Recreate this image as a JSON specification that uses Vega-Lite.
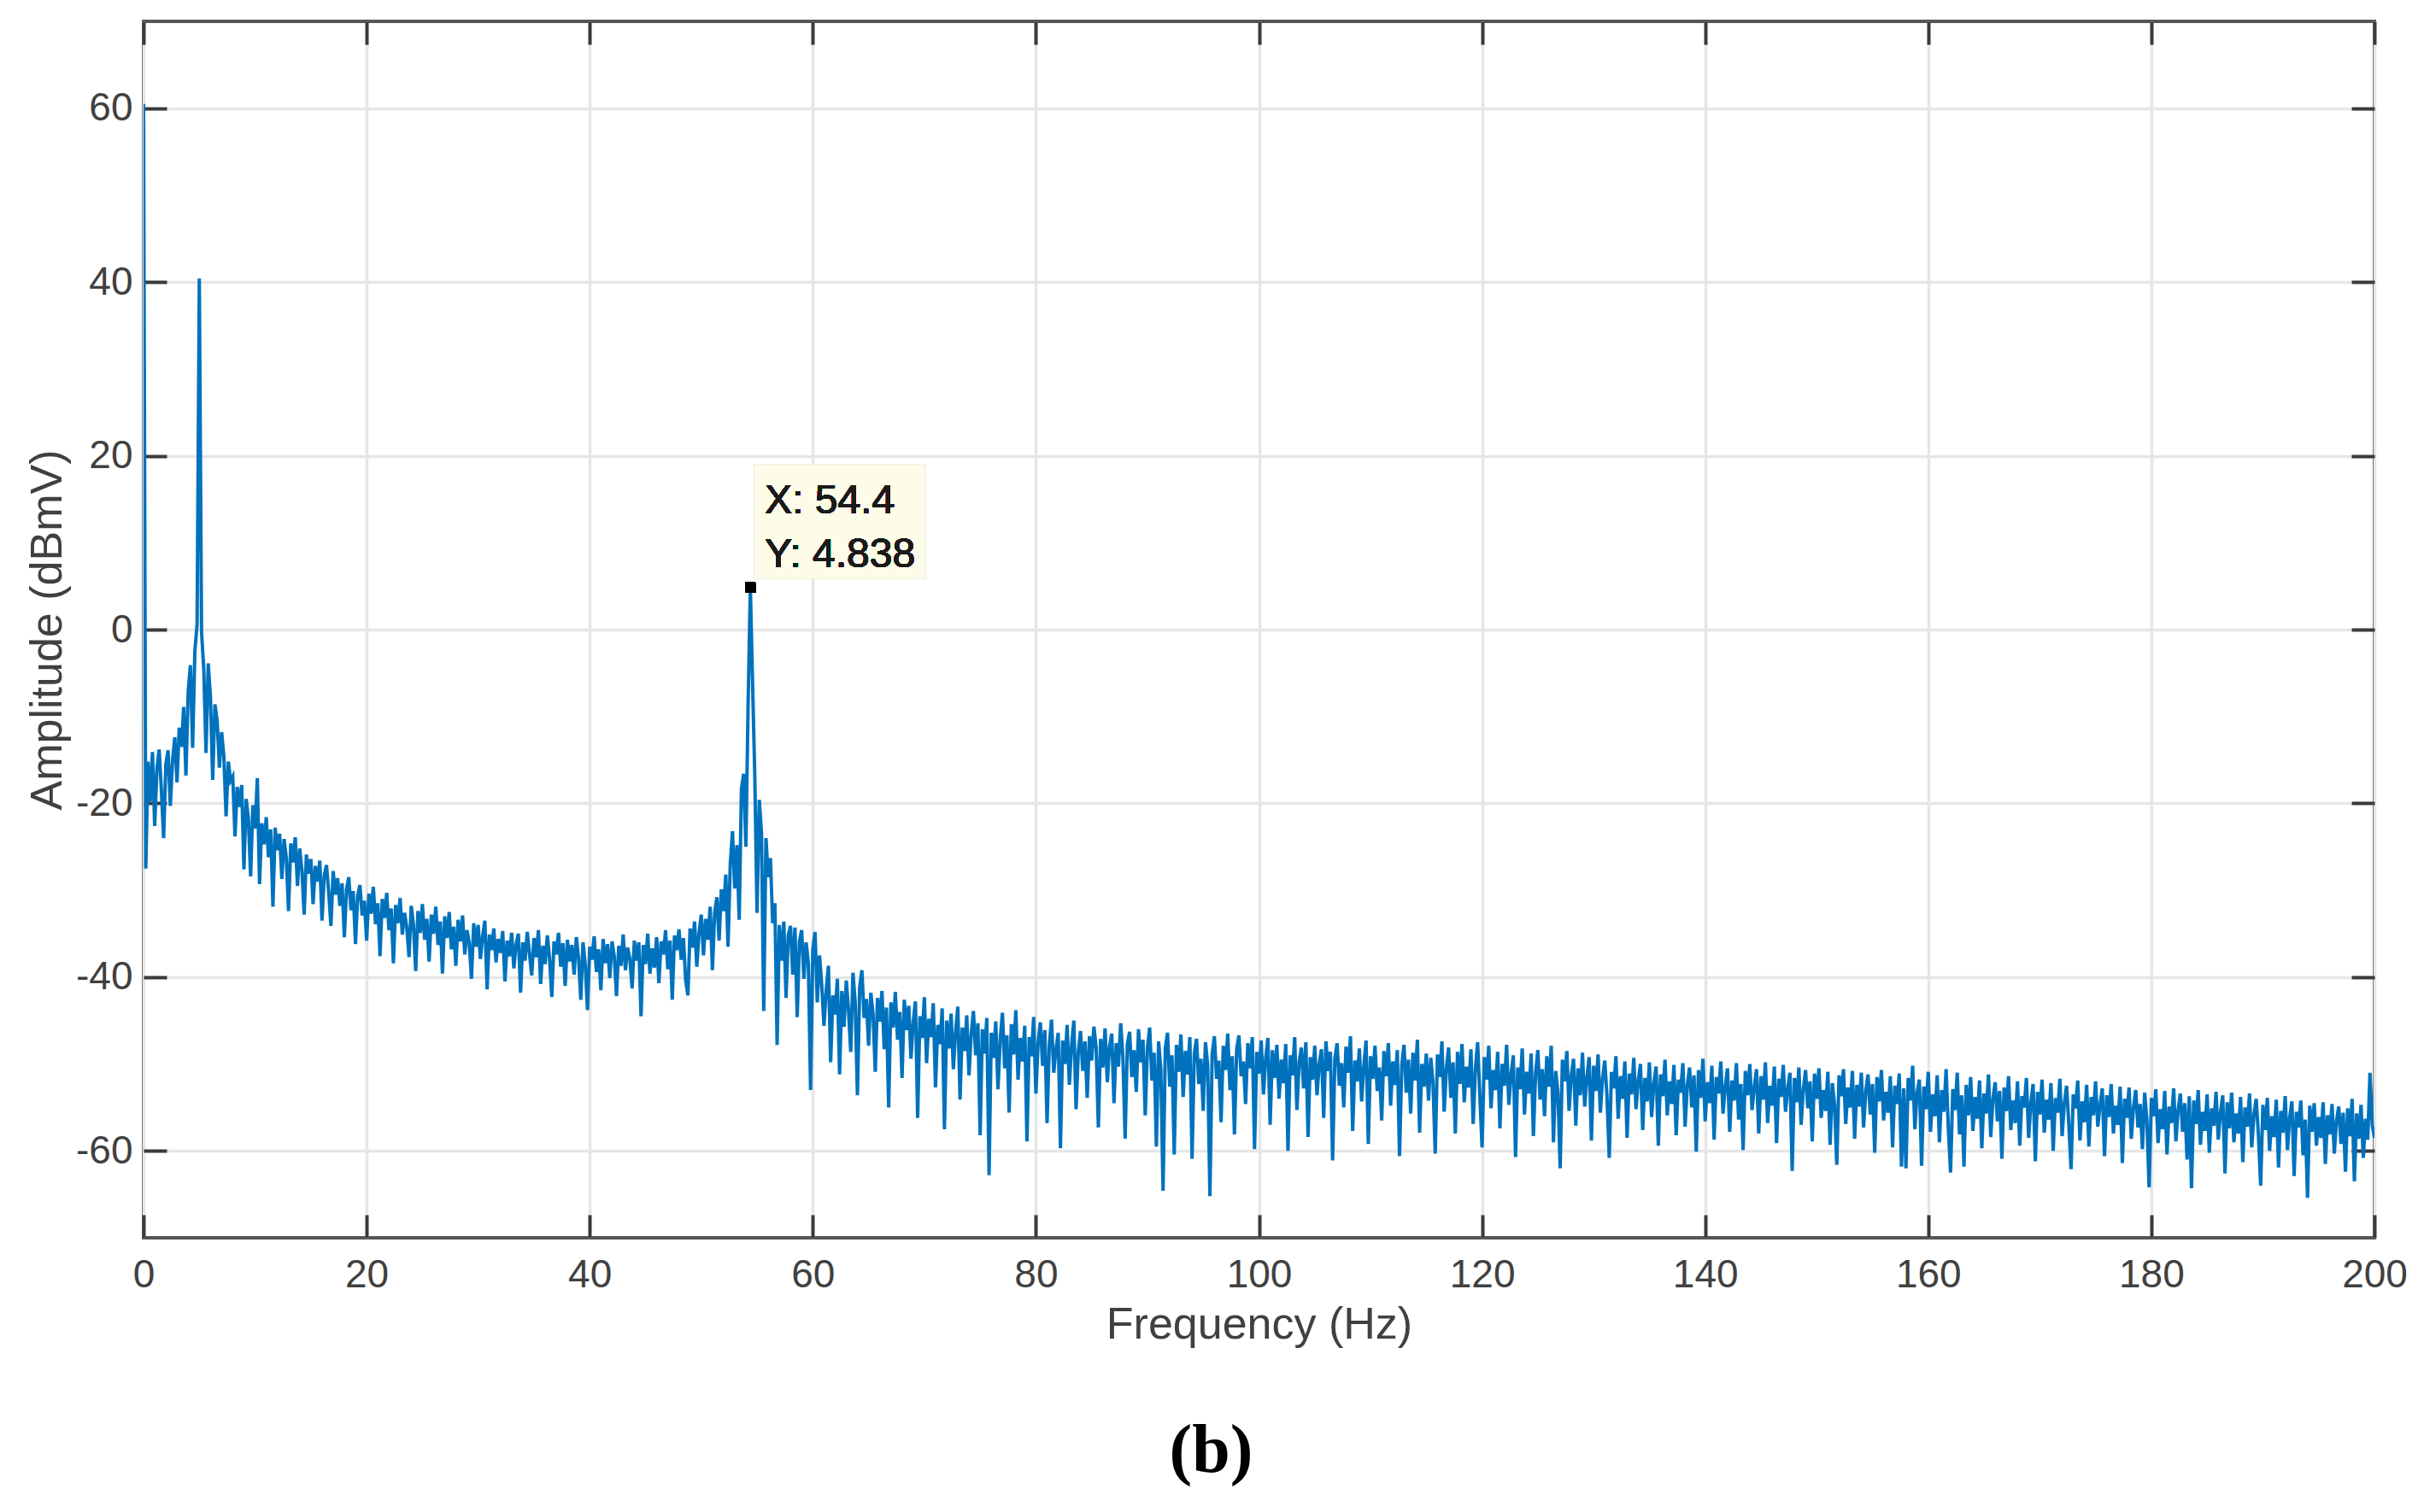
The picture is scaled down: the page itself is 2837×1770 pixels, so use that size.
{
"$schema": "https://vega.github.io/schema/vega-lite/v6.json",
"autosize": {"type": "none"},
"padding": {"left": 168, "top": 25, "right": 58, "bottom": 321},
"width": 2611,
"height": 1424,
"background": "white",
"config": {
  "view": {"stroke": "#555555", "strokeWidth": 4},
  "axis": {"labelFont": "Liberation Sans", "titleFont": "Liberation Sans", "labelColor": "#404040", "titleColor": "#404040", "titleFontWeight": "normal", "labelFlush": false, "labelOverlap": false, "labelBound": false}
},
"title": {"text": "(b)", "orient": "bottom", "font": "Liberation Serif", "fontSize": 80, "fontWeight": "bold", "color": "#000000", "offset": 84, "dx": -56, "anchor": "middle"},
"data": {"values": [
{"f":0,"a":60.5},{"f":0.2,"a":-27.5},{"f":0.4,"a":-15.2},{"f":0.6,"a":-19.8},{"f":0.8,"a":-14.1},{"f":1.0,"a":-22.6},{"f":1.2,"a":-16.0},{"f":1.4,"a":-13.8},{"f":1.6,"a":-18.5},{"f":1.8,"a":-24.0},
{"f":2.0,"a":-15.5},{"f":2.2,"a":-13.9},{"f":2.4,"a":-20.3},{"f":2.6,"a":-15.1},{"f":2.8,"a":-12.4},{"f":3.0,"a":-17.6},{"f":3.2,"a":-11.3},{"f":3.4,"a":-13.5},{"f":3.6,"a":-8.9},{"f":3.8,"a":-16.8},
{"f":4.0,"a":-7.2},{"f":4.2,"a":-4.1},{"f":4.4,"a":-13.6},{"f":4.6,"a":-2.5},{"f":4.8,"a":0.6},{"f":5.0,"a":40.4},{"f":5.2,"a":-0.3},{"f":5.4,"a":-4.5},{"f":5.6,"a":-14.2},{"f":5.8,"a":-3.9},
{"f":6.0,"a":-7.8},{"f":6.2,"a":-17.3},{"f":6.4,"a":-8.6},{"f":6.6,"a":-10.5},{"f":6.8,"a":-15.9},{"f":7.0,"a":-11.8},{"f":7.2,"a":-14.6},{"f":7.4,"a":-21.5},{"f":7.6,"a":-15.2},{"f":7.8,"a":-17.4},
{"f":8.0,"a":-16.9},{"f":8.2,"a":-23.8},{"f":8.4,"a":-18.1},{"f":8.6,"a":-20.4},{"f":8.8,"a":-17.9},{"f":9.0,"a":-27.6},{"f":9.2,"a":-19.5},{"f":9.4,"a":-21.8},{"f":9.6,"a":-28.4},{"f":9.8,"a":-20.2},
{"f":10.0,"a":-22.9},{"f":10.2,"a":-17.1},{"f":10.4,"a":-29.3},{"f":10.6,"a":-22.3},{"f":10.8,"a":-24.7},{"f":11.0,"a":-21.6},{"f":11.2,"a":-26.2},{"f":11.4,"a":-23.0},{"f":11.6,"a":-31.9},{"f":11.8,"a":-22.8},
{"f":12.0,"a":-25.4},{"f":12.2,"a":-23.5},{"f":12.4,"a":-28.7},{"f":12.6,"a":-24.1},{"f":12.8,"a":-26.3},{"f":13.0,"a":-32.4},{"f":13.2,"a":-24.6},{"f":13.4,"a":-26.8},{"f":13.6,"a":-23.9},{"f":13.8,"a":-29.5},
{"f":14.0,"a":-25.2},{"f":14.2,"a":-27.7},{"f":14.4,"a":-32.8},{"f":14.6,"a":-25.9},{"f":14.8,"a":-28.1},{"f":15.0,"a":-26.4},{"f":15.2,"a":-31.6},{"f":15.4,"a":-27.2},{"f":15.6,"a":-29.0},{"f":15.8,"a":-26.6},
{"f":16.0,"a":-33.5},{"f":16.2,"a":-28.3},{"f":16.4,"a":-27.1},{"f":16.6,"a":-30.2},{"f":16.8,"a":-34.1},{"f":17.0,"a":-27.8},{"f":17.2,"a":-30.5},{"f":17.4,"a":-28.6},{"f":17.6,"a":-31.8},{"f":17.8,"a":-29.2},
{"f":18.0,"a":-35.4},{"f":18.2,"a":-29.9},{"f":18.4,"a":-28.5},{"f":18.6,"a":-32.3},{"f":18.8,"a":-30.1},{"f":19.0,"a":-36.2},{"f":19.2,"a":-30.6},{"f":19.4,"a":-29.4},{"f":19.6,"a":-32.9},{"f":19.8,"a":-31.2},
{"f":20.0,"a":-35.8},{"f":20.2,"a":-30.4},{"f":20.4,"a":-32.7},{"f":20.6,"a":-29.6},{"f":20.8,"a":-33.9},{"f":21.0,"a":-31.5},{"f":21.2,"a":-37.6},{"f":21.4,"a":-31.0},{"f":21.6,"a":-33.2},{"f":21.8,"a":-30.3},
{"f":22.0,"a":-34.6},{"f":22.2,"a":-32.1},{"f":22.4,"a":-38.4},{"f":22.6,"a":-31.7},{"f":22.8,"a":-33.8},{"f":23.0,"a":-30.9},{"f":23.2,"a":-35.1},{"f":23.4,"a":-32.6},{"f":23.6,"a":-34.3},{"f":23.8,"a":-37.7},
{"f":24.0,"a":-31.8},{"f":24.2,"a":-34.0},{"f":24.4,"a":-39.3},{"f":24.6,"a":-32.4},{"f":24.8,"a":-34.9},{"f":25.0,"a":-31.6},{"f":25.2,"a":-35.7},{"f":25.4,"a":-33.3},{"f":25.6,"a":-38.2},{"f":25.8,"a":-32.8},
{"f":26.0,"a":-35.0},{"f":26.2,"a":-31.9},{"f":26.4,"a":-36.3},{"f":26.6,"a":-33.6},{"f":26.8,"a":-39.6},{"f":27.0,"a":-33.0},{"f":27.2,"a":-35.5},{"f":27.4,"a":-32.5},{"f":27.6,"a":-36.8},{"f":27.8,"a":-34.2},
{"f":28.0,"a":-38.7},{"f":28.2,"a":-33.4},{"f":28.4,"a":-35.9},{"f":28.6,"a":-32.9},{"f":28.8,"a":-37.4},{"f":29.0,"a":-34.6},{"f":29.2,"a":-36.1},{"f":29.4,"a":-40.2},{"f":29.6,"a":-33.8},{"f":29.8,"a":-36.5},
{"f":30.0,"a":-34.0},{"f":30.2,"a":-37.9},{"f":30.4,"a":-35.3},{"f":30.6,"a":-33.5},{"f":30.8,"a":-41.4},{"f":31.0,"a":-35.1},{"f":31.2,"a":-36.9},{"f":31.4,"a":-34.4},{"f":31.6,"a":-38.3},{"f":31.8,"a":-35.6},
{"f":32.0,"a":-37.2},{"f":32.2,"a":-34.7},{"f":32.4,"a":-40.5},{"f":32.6,"a":-35.8},{"f":32.8,"a":-37.6},{"f":33.0,"a":-34.9},{"f":33.2,"a":-39.0},{"f":33.4,"a":-36.2},{"f":33.6,"a":-35.0},{"f":33.8,"a":-41.8},
{"f":34.0,"a":-36.0},{"f":34.2,"a":-38.1},{"f":34.4,"a":-34.8},{"f":34.6,"a":-37.3},{"f":34.8,"a":-39.8},{"f":35.0,"a":-35.5},{"f":35.2,"a":-37.7},{"f":35.4,"a":-34.6},{"f":35.6,"a":-40.8},{"f":35.8,"a":-36.4},
{"f":36.0,"a":-38.5},{"f":36.2,"a":-35.2},{"f":36.4,"a":-37.9},{"f":36.6,"a":-42.3},{"f":36.8,"a":-35.9},{"f":37.0,"a":-37.4},{"f":37.2,"a":-34.9},{"f":37.4,"a":-38.8},{"f":37.6,"a":-36.1},{"f":37.8,"a":-41.0},
{"f":38.0,"a":-35.7},{"f":38.2,"a":-38.2},{"f":38.4,"a":-36.3},{"f":38.6,"a":-39.7},{"f":38.8,"a":-35.4},{"f":39.0,"a":-37.8},{"f":39.2,"a":-42.6},{"f":39.4,"a":-36.0},{"f":39.6,"a":-38.6},{"f":39.8,"a":-43.8},
{"f":40.0,"a":-36.5},{"f":40.2,"a":-38.0},{"f":40.4,"a":-35.3},{"f":40.6,"a":-39.4},{"f":40.8,"a":-36.8},{"f":41.0,"a":-41.5},{"f":41.2,"a":-35.6},{"f":41.4,"a":-38.4},{"f":41.6,"a":-36.2},{"f":41.8,"a":-40.1},
{"f":42.0,"a":-35.9},{"f":42.2,"a":-37.6},{"f":42.4,"a":-42.2},{"f":42.6,"a":-36.4},{"f":42.8,"a":-38.7},{"f":43.0,"a":-35.1},{"f":43.2,"a":-39.2},{"f":43.4,"a":-36.6},{"f":43.6,"a":-37.9},{"f":43.8,"a":-41.3},
{"f":44.0,"a":-35.8},{"f":44.2,"a":-38.1},{"f":44.4,"a":-36.0},{"f":44.6,"a":-44.5},{"f":44.8,"a":-36.3},{"f":45.0,"a":-38.5},{"f":45.2,"a":-35.0},{"f":45.4,"a":-39.6},{"f":45.6,"a":-36.7},{"f":45.8,"a":-38.9},
{"f":46.0,"a":-35.4},{"f":46.2,"a":-40.7},{"f":46.4,"a":-35.9},{"f":46.6,"a":-37.4},{"f":46.8,"a":-34.6},{"f":47.0,"a":-39.1},{"f":47.2,"a":-35.8},{"f":47.4,"a":-42.6},{"f":47.6,"a":-35.2},{"f":47.8,"a":-36.9},
{"f":48.0,"a":-34.5},{"f":48.2,"a":-38.0},{"f":48.4,"a":-35.5},{"f":48.6,"a":-40.3},{"f":48.8,"a":-42.1},{"f":49.0,"a":-34.4},{"f":49.2,"a":-36.6},{"f":49.4,"a":-33.6},{"f":49.6,"a":-38.8},{"f":49.8,"a":-34.9},
{"f":50.0,"a":-32.8},{"f":50.2,"a":-37.5},{"f":50.4,"a":-33.3},{"f":50.6,"a":-35.7},{"f":50.8,"a":-31.9},{"f":51.0,"a":-39.2},{"f":51.2,"a":-32.6},{"f":51.4,"a":-30.8},{"f":51.6,"a":-35.8},{"f":51.8,"a":-29.9},
{"f":52.0,"a":-32.4},{"f":52.2,"a":-28.2},{"f":52.4,"a":-36.5},{"f":52.6,"a":-27.0},{"f":52.8,"a":-23.2},{"f":53.0,"a":-29.8},{"f":53.2,"a":-24.8},{"f":53.4,"a":-33.4},{"f":53.6,"a":-18.4},{"f":53.8,"a":-16.6},
{"f":54.0,"a":-25.0},{"f":54.2,"a":-8.5},{"f":54.4,"a":4.838},{"f":54.6,"a":-6.2},{"f":54.8,"a":-16.9},{"f":55.0,"a":-32.6},{"f":55.2,"a":-19.6},{"f":55.4,"a":-23.4},{"f":55.6,"a":-43.9},{"f":55.8,"a":-24.0},
{"f":56.0,"a":-28.5},{"f":56.2,"a":-26.3},{"f":56.4,"a":-33.8},{"f":56.6,"a":-31.5},{"f":56.8,"a":-47.8},{"f":57.0,"a":-34.0},{"f":57.2,"a":-38.1},{"f":57.4,"a":-33.6},{"f":57.6,"a":-42.4},{"f":57.8,"a":-35.2},
{"f":58.0,"a":-34.1},{"f":58.2,"a":-39.7},{"f":58.4,"a":-34.3},{"f":58.6,"a":-44.6},{"f":58.8,"a":-35.9},{"f":59.0,"a":-34.6},{"f":59.2,"a":-40.2},{"f":59.4,"a":-36.0},{"f":59.6,"a":-38.4},{"f":59.8,"a":-53.0},
{"f":60.0,"a":-36.8},{"f":60.2,"a":-34.8},{"f":60.4,"a":-42.9},{"f":60.6,"a":-37.5},{"f":60.8,"a":-40.9},{"f":61.0,"a":-45.6},{"f":61.2,"a":-41.5},{"f":61.4,"a":-38.7},{"f":61.6,"a":-49.8},{"f":61.8,"a":-42.1},
{"f":62.0,"a":-44.3},{"f":62.2,"a":-40.2},{"f":62.4,"a":-51.2},{"f":62.6,"a":-41.6},{"f":62.8,"a":-45.7},{"f":63.0,"a":-40.4},{"f":63.2,"a":-43.8},{"f":63.4,"a":-48.6},{"f":63.6,"a":-39.5},{"f":63.8,"a":-42.9},
{"f":64.0,"a":-53.6},{"f":64.2,"a":-41.2},{"f":64.4,"a":-39.2},{"f":64.6,"a":-44.7},{"f":64.8,"a":-42.5},{"f":65.0,"a":-47.9},{"f":65.2,"a":-41.8},{"f":65.4,"a":-44.2},{"f":65.6,"a":-50.9},{"f":65.8,"a":-42.4},
{"f":66.0,"a":-45.1},{"f":66.2,"a":-41.6},{"f":66.4,"a":-48.3},{"f":66.6,"a":-43.5},{"f":66.8,"a":-55.0},{"f":67.0,"a":-42.9},{"f":67.2,"a":-45.8},{"f":67.4,"a":-41.7},{"f":67.6,"a":-47.2},{"f":67.8,"a":-44.0},
{"f":68.0,"a":-51.6},{"f":68.2,"a":-42.6},{"f":68.4,"a":-46.1},{"f":68.6,"a":-43.3},{"f":68.8,"a":-49.4},{"f":69.0,"a":-45.2},{"f":69.2,"a":-42.8},{"f":69.4,"a":-56.2},{"f":69.6,"a":-44.5},{"f":69.8,"a":-47.0},
{"f":70.0,"a":-42.3},{"f":70.2,"a":-49.9},{"f":70.4,"a":-44.8},{"f":70.6,"a":-46.9},{"f":70.8,"a":-43.0},{"f":71.0,"a":-52.7},{"f":71.2,"a":-45.5},{"f":71.4,"a":-47.7},{"f":71.6,"a":-43.6},{"f":71.8,"a":-57.5},
{"f":72.0,"a":-45.0},{"f":72.2,"a":-48.2},{"f":72.4,"a":-44.2},{"f":72.6,"a":-50.6},{"f":72.8,"a":-46.3},{"f":73.0,"a":-43.4},{"f":73.2,"a":-54.1},{"f":73.4,"a":-45.8},{"f":73.6,"a":-48.5},{"f":73.8,"a":-44.4},
{"f":74.0,"a":-51.3},{"f":74.2,"a":-46.6},{"f":74.4,"a":-43.9},{"f":74.6,"a":-49.0},{"f":74.8,"a":-45.3},{"f":75.0,"a":-58.2},{"f":75.2,"a":-46.0},{"f":75.4,"a":-48.8},{"f":75.6,"a":-44.7},{"f":75.8,"a":-62.8},
{"f":76.0,"a":-46.4},{"f":76.2,"a":-49.3},{"f":76.4,"a":-45.1},{"f":76.6,"a":-52.9},{"f":76.8,"a":-47.2},{"f":77.0,"a":-44.1},{"f":77.2,"a":-50.5},{"f":77.4,"a":-46.7},{"f":77.6,"a":-55.6},{"f":77.8,"a":-45.4},
{"f":78.0,"a":-48.9},{"f":78.2,"a":-43.8},{"f":78.4,"a":-51.8},{"f":78.6,"a":-47.0},{"f":78.8,"a":-49.7},{"f":79.0,"a":-45.6},{"f":79.2,"a":-58.9},{"f":79.4,"a":-46.9},{"f":79.6,"a":-49.1},{"f":79.8,"a":-44.6},
{"f":80.0,"a":-53.4},{"f":80.2,"a":-47.5},{"f":80.4,"a":-45.2},{"f":80.6,"a":-50.2},{"f":80.8,"a":-46.1},{"f":81.0,"a":-56.8},{"f":81.2,"a":-47.8},{"f":81.4,"a":-44.9},{"f":81.6,"a":-51.0},{"f":81.8,"a":-48.3},
{"f":82.0,"a":-46.4},{"f":82.2,"a":-59.7},{"f":82.4,"a":-47.3},{"f":82.6,"a":-50.0},{"f":82.8,"a":-45.5},{"f":83.0,"a":-52.4},{"f":83.2,"a":-47.9},{"f":83.4,"a":-45.0},{"f":83.6,"a":-55.2},{"f":83.8,"a":-48.6},
{"f":84.0,"a":-46.2},{"f":84.2,"a":-50.8},{"f":84.4,"a":-47.4},{"f":84.6,"a":-53.9},{"f":84.8,"a":-46.8},{"f":85.0,"a":-49.6},{"f":85.2,"a":-45.7},{"f":85.4,"a":-48.1},{"f":85.6,"a":-57.3},{"f":85.8,"a":-47.1},
{"f":86.0,"a":-50.4},{"f":86.2,"a":-45.9},{"f":86.4,"a":-52.1},{"f":86.6,"a":-48.0},{"f":86.8,"a":-46.5},{"f":87.0,"a":-54.5},{"f":87.2,"a":-47.6},{"f":87.4,"a":-50.3},{"f":87.6,"a":-45.3},{"f":87.8,"a":-49.2},
{"f":88.0,"a":-58.6},{"f":88.2,"a":-47.7},{"f":88.4,"a":-46.3},{"f":88.6,"a":-51.5},{"f":88.8,"a":-48.4},{"f":89.0,"a":-53.2},{"f":89.2,"a":-46.0},{"f":89.4,"a":-49.8},{"f":89.6,"a":-47.2},{"f":89.8,"a":-55.9},
{"f":90.0,"a":-48.1},{"f":90.2,"a":-45.8},{"f":90.4,"a":-51.9},{"f":90.6,"a":-48.7},{"f":90.8,"a":-59.5},{"f":91.0,"a":-47.4},{"f":91.2,"a":-50.6},{"f":91.4,"a":-64.6},{"f":91.6,"a":-48.2},{"f":91.8,"a":-46.4},
{"f":92.0,"a":-52.6},{"f":92.2,"a":-49.0},{"f":92.4,"a":-60.4},{"f":92.6,"a":-47.8},{"f":92.8,"a":-50.9},{"f":93.0,"a":-46.6},{"f":93.2,"a":-53.8},{"f":93.4,"a":-48.5},{"f":93.6,"a":-51.2},{"f":93.8,"a":-46.9},
{"f":94.0,"a":-60.9},{"f":94.2,"a":-48.8},{"f":94.4,"a":-47.1},{"f":94.6,"a":-52.3},{"f":94.8,"a":-49.4},{"f":95.0,"a":-55.4},{"f":95.2,"a":-47.5},{"f":95.4,"a":-50.1},{"f":95.6,"a":-65.2},{"f":95.8,"a":-48.9},
{"f":96.0,"a":-46.8},{"f":96.2,"a":-51.7},{"f":96.4,"a":-49.6},{"f":96.6,"a":-56.7},{"f":96.8,"a":-47.9},{"f":97.0,"a":-50.7},{"f":97.2,"a":-46.5},{"f":97.4,"a":-53.0},{"f":97.6,"a":-49.1},{"f":97.8,"a":-58.1},
{"f":98.0,"a":-48.3},{"f":98.2,"a":-46.7},{"f":98.4,"a":-51.4},{"f":98.6,"a":-49.7},{"f":98.8,"a":-54.6},{"f":99.0,"a":-47.6},{"f":99.2,"a":-50.5},{"f":99.4,"a":-46.9},{"f":99.6,"a":-59.8},{"f":99.8,"a":-48.6},
{"f":100.0,"a":-51.1},{"f":100.2,"a":-47.3},{"f":100.4,"a":-53.5},{"f":100.6,"a":-49.3},{"f":100.8,"a":-47.0},{"f":101.0,"a":-57.0},{"f":101.2,"a":-48.4},{"f":101.4,"a":-51.6},{"f":101.6,"a":-47.8},{"f":101.8,"a":-54.0},
{"f":102.0,"a":-49.5},{"f":102.2,"a":-52.2},{"f":102.4,"a":-47.7},{"f":102.6,"a":-60.0},{"f":102.8,"a":-49.0},{"f":103.0,"a":-51.3},{"f":103.2,"a":-46.9},{"f":103.4,"a":-55.3},{"f":103.6,"a":-49.8},{"f":103.8,"a":-48.1},
{"f":104.0,"a":-52.8},{"f":104.2,"a":-47.5},{"f":104.4,"a":-58.4},{"f":104.6,"a":-49.2},{"f":104.8,"a":-51.8},{"f":105.0,"a":-47.9},{"f":105.2,"a":-53.6},{"f":105.4,"a":-50.0},{"f":105.6,"a":-48.3},{"f":105.8,"a":-56.2},
{"f":106.0,"a":-47.4},{"f":106.2,"a":-50.8},{"f":106.4,"a":-48.6},{"f":106.6,"a":-61.1},{"f":106.8,"a":-49.4},{"f":107.0,"a":-47.6},{"f":107.2,"a":-52.5},{"f":107.4,"a":-49.9},{"f":107.6,"a":-55.0},{"f":107.8,"a":-48.0},
{"f":108.0,"a":-51.0},{"f":108.2,"a":-46.8},{"f":108.4,"a":-57.7},{"f":108.6,"a":-49.6},{"f":108.8,"a":-52.0},{"f":109.0,"a":-48.2},{"f":109.2,"a":-54.3},{"f":109.4,"a":-50.2},{"f":109.6,"a":-47.3},{"f":109.8,"a":-59.2},
{"f":110.0,"a":-49.1},{"f":110.2,"a":-51.7},{"f":110.4,"a":-47.9},{"f":110.6,"a":-53.1},{"f":110.8,"a":-50.4},{"f":111.0,"a":-56.5},{"f":111.2,"a":-48.5},{"f":111.4,"a":-51.4},{"f":111.6,"a":-47.6},{"f":111.8,"a":-54.8},
{"f":112.0,"a":-49.7},{"f":112.2,"a":-52.4},{"f":112.4,"a":-48.4},{"f":112.6,"a":-60.6},{"f":112.8,"a":-50.1},{"f":113.0,"a":-47.8},{"f":113.2,"a":-53.3},{"f":113.4,"a":-49.5},{"f":113.6,"a":-55.7},{"f":113.8,"a":-48.7},
{"f":114.0,"a":-51.9},{"f":114.2,"a":-47.2},{"f":114.4,"a":-57.9},{"f":114.6,"a":-50.0},{"f":114.8,"a":-52.6},{"f":115.0,"a":-48.8},{"f":115.2,"a":-54.2},{"f":115.4,"a":-49.3},{"f":115.6,"a":-52.1},{"f":115.8,"a":-60.3},
{"f":116.0,"a":-48.9},{"f":116.2,"a":-51.5},{"f":116.4,"a":-47.4},{"f":116.6,"a":-55.5},{"f":116.8,"a":-50.5},{"f":117.0,"a":-48.1},{"f":117.2,"a":-53.9},{"f":117.4,"a":-49.8},{"f":117.6,"a":-58.0},{"f":117.8,"a":-48.6},
{"f":118.0,"a":-52.3},{"f":118.2,"a":-47.7},{"f":118.4,"a":-54.4},{"f":118.6,"a":-50.3},{"f":118.8,"a":-52.7},{"f":119.0,"a":-48.3},{"f":119.2,"a":-56.9},{"f":119.4,"a":-50.6},{"f":119.6,"a":-47.5},{"f":119.8,"a":-53.7},
{"f":120.0,"a":-59.6},{"f":120.2,"a":-49.2},{"f":120.4,"a":-51.8},{"f":120.6,"a":-47.9},{"f":120.8,"a":-55.1},{"f":121.0,"a":-50.7},{"f":121.2,"a":-53.0},{"f":121.4,"a":-48.6},{"f":121.6,"a":-57.4},{"f":121.8,"a":-50.0},
{"f":122.0,"a":-52.5},{"f":122.2,"a":-47.8},{"f":122.4,"a":-54.7},{"f":122.6,"a":-51.2},{"f":122.8,"a":-49.0},{"f":123.0,"a":-60.7},{"f":123.2,"a":-50.4},{"f":123.4,"a":-52.9},{"f":123.6,"a":-48.2},{"f":123.8,"a":-55.8},
{"f":124.0,"a":-50.9},{"f":124.2,"a":-53.4},{"f":124.4,"a":-48.8},{"f":124.6,"a":-58.3},{"f":124.8,"a":-51.0},{"f":125.0,"a":-48.4},{"f":125.2,"a":-54.1},{"f":125.4,"a":-50.6},{"f":125.6,"a":-56.0},{"f":125.8,"a":-49.1},
{"f":126.0,"a":-52.6},{"f":126.2,"a":-47.9},{"f":126.4,"a":-59.0},{"f":126.6,"a":-50.8},{"f":126.8,"a":-53.2},{"f":127.0,"a":-62.0},{"f":127.2,"a":-49.5},{"f":127.4,"a":-52.0},{"f":127.6,"a":-48.5},{"f":127.8,"a":-55.4},
{"f":128.0,"a":-51.3},{"f":128.2,"a":-49.4},{"f":128.4,"a":-57.1},{"f":128.6,"a":-50.5},{"f":128.8,"a":-53.6},{"f":129.0,"a":-48.7},{"f":129.2,"a":-54.9},{"f":129.4,"a":-51.5},{"f":129.6,"a":-49.2},{"f":129.8,"a":-58.8},
{"f":130.0,"a":-50.2},{"f":130.2,"a":-53.1},{"f":130.4,"a":-48.9},{"f":130.6,"a":-55.6},{"f":130.8,"a":-51.7},{"f":131.0,"a":-49.6},{"f":131.2,"a":-53.8},{"f":131.4,"a":-60.8},{"f":131.6,"a":-50.9},{"f":131.8,"a":-52.8},
{"f":132.0,"a":-49.1},{"f":132.2,"a":-56.3},{"f":132.4,"a":-51.4},{"f":132.6,"a":-54.0},{"f":132.8,"a":-49.7},{"f":133.0,"a":-58.5},{"f":133.2,"a":-51.1},{"f":133.4,"a":-53.5},{"f":133.6,"a":-49.3},{"f":133.8,"a":-55.2},
{"f":134.0,"a":-51.9},{"f":134.2,"a":-50.0},{"f":134.4,"a":-57.6},{"f":134.6,"a":-51.6},{"f":134.8,"a":-54.3},{"f":135.0,"a":-49.8},{"f":135.2,"a":-56.1},{"f":135.4,"a":-52.2},{"f":135.6,"a":-50.3},{"f":135.8,"a":-59.4},
{"f":136.0,"a":-51.2},{"f":136.2,"a":-53.7},{"f":136.4,"a":-49.5},{"f":136.6,"a":-55.9},{"f":136.8,"a":-52.0},{"f":137.0,"a":-54.6},{"f":137.2,"a":-50.1},{"f":137.4,"a":-58.2},{"f":137.6,"a":-51.8},{"f":137.8,"a":-53.3},
{"f":138.0,"a":-49.9},{"f":138.2,"a":-57.2},{"f":138.4,"a":-52.4},{"f":138.6,"a":-50.4},{"f":138.8,"a":-55.0},{"f":139.0,"a":-51.3},{"f":139.2,"a":-60.1},{"f":139.4,"a":-50.7},{"f":139.6,"a":-53.9},{"f":139.8,"a":-49.4},
{"f":140.0,"a":-56.6},{"f":140.2,"a":-52.1},{"f":140.4,"a":-54.5},{"f":140.6,"a":-50.2},{"f":140.8,"a":-58.7},{"f":141.0,"a":-51.5},{"f":141.2,"a":-53.4},{"f":141.4,"a":-49.7},{"f":141.6,"a":-55.7},{"f":141.8,"a":-52.6},
{"f":142.0,"a":-50.5},{"f":142.2,"a":-57.8},{"f":142.4,"a":-51.9},{"f":142.6,"a":-54.2},{"f":142.8,"a":-49.9},{"f":143.0,"a":-56.4},{"f":143.2,"a":-52.3},{"f":143.4,"a":-59.9},{"f":143.6,"a":-50.8},{"f":143.8,"a":-53.6},
{"f":144.0,"a":-50.0},{"f":144.2,"a":-55.3},{"f":144.4,"a":-52.7},{"f":144.6,"a":-50.6},{"f":144.8,"a":-58.0},{"f":145.0,"a":-51.4},{"f":145.2,"a":-54.1},{"f":145.4,"a":-49.8},{"f":145.6,"a":-56.8},{"f":145.8,"a":-52.5},
{"f":146.0,"a":-54.8},{"f":146.2,"a":-50.3},{"f":146.4,"a":-59.1},{"f":146.6,"a":-51.7},{"f":146.8,"a":-53.8},{"f":147.0,"a":-50.1},{"f":147.2,"a":-55.5},{"f":147.4,"a":-52.8},{"f":147.6,"a":-51.0},{"f":147.8,"a":-62.3},
{"f":148.0,"a":-51.6},{"f":148.2,"a":-54.4},{"f":148.4,"a":-50.4},{"f":148.6,"a":-57.0},{"f":148.8,"a":-52.9},{"f":149.0,"a":-50.7},{"f":149.2,"a":-55.1},{"f":149.4,"a":-52.0},{"f":149.6,"a":-58.9},{"f":149.8,"a":-51.1},
{"f":150.0,"a":-54.0},{"f":150.2,"a":-50.5},{"f":150.4,"a":-56.2},{"f":150.6,"a":-53.0},{"f":150.8,"a":-55.4},{"f":151.0,"a":-50.9},{"f":151.2,"a":-59.3},{"f":151.4,"a":-52.2},{"f":151.6,"a":-54.7},{"f":151.8,"a":-61.6},
{"f":152.0,"a":-51.3},{"f":152.2,"a":-53.7},{"f":152.4,"a":-50.6},{"f":152.6,"a":-56.9},{"f":152.8,"a":-52.7},{"f":153.0,"a":-55.0},{"f":153.2,"a":-50.8},{"f":153.4,"a":-58.6},{"f":153.6,"a":-52.4},{"f":153.8,"a":-54.9},
{"f":154.0,"a":-51.0},{"f":154.2,"a":-57.3},{"f":154.4,"a":-53.1},{"f":154.6,"a":-51.2},{"f":154.8,"a":-55.8},{"f":155.0,"a":-52.3},{"f":155.2,"a":-60.2},{"f":155.4,"a":-51.5},{"f":155.6,"a":-54.3},{"f":155.8,"a":-50.7},
{"f":156.0,"a":-56.5},{"f":156.2,"a":-53.2},{"f":156.4,"a":-55.6},{"f":156.6,"a":-51.4},{"f":156.8,"a":-59.6},{"f":157.0,"a":-52.5},{"f":157.2,"a":-54.6},{"f":157.4,"a":-51.1},{"f":157.6,"a":-61.8},{"f":157.8,"a":-52.8},
{"f":158.0,"a":-62.0},{"f":158.2,"a":-51.6},{"f":158.4,"a":-54.2},{"f":158.6,"a":-50.2},{"f":158.8,"a":-57.5},{"f":159.0,"a":-53.3},{"f":159.2,"a":-51.8},{"f":159.4,"a":-61.7},{"f":159.6,"a":-52.6},{"f":159.8,"a":-55.2},
{"f":160.0,"a":-50.9},{"f":160.2,"a":-57.8},{"f":160.4,"a":-53.5},{"f":160.6,"a":-56.0},{"f":160.8,"a":-51.3},{"f":161.0,"a":-59.0},{"f":161.2,"a":-53.0},{"f":161.4,"a":-55.5},{"f":161.6,"a":-50.6},{"f":161.8,"a":-57.4},
{"f":162.0,"a":-62.5},{"f":162.2,"a":-52.9},{"f":162.4,"a":-55.3},{"f":162.6,"a":-51.0},{"f":162.8,"a":-58.1},{"f":163.0,"a":-53.6},{"f":163.2,"a":-61.8},{"f":163.4,"a":-52.4},{"f":163.6,"a":-55.9},{"f":163.8,"a":-51.5},
{"f":164.0,"a":-57.7},{"f":164.2,"a":-53.8},{"f":164.4,"a":-56.3},{"f":164.6,"a":-51.9},{"f":164.8,"a":-59.7},{"f":165.0,"a":-53.4},{"f":165.2,"a":-55.7},{"f":165.4,"a":-51.2},{"f":165.6,"a":-58.4},{"f":165.8,"a":-54.0},
{"f":166.0,"a":-52.1},{"f":166.2,"a":-56.6},{"f":166.4,"a":-53.1},{"f":166.6,"a":-60.9},{"f":166.8,"a":-52.7},{"f":167.0,"a":-55.4},{"f":167.2,"a":-51.4},{"f":167.4,"a":-57.6},{"f":167.6,"a":-54.2},{"f":167.8,"a":-56.8},
{"f":168.0,"a":-52.0},{"f":168.2,"a":-59.4},{"f":168.4,"a":-53.7},{"f":168.6,"a":-55.0},{"f":168.8,"a":-51.6},{"f":169.0,"a":-58.5},{"f":169.2,"a":-54.4},{"f":169.4,"a":-52.3},{"f":169.6,"a":-61.2},{"f":169.8,"a":-53.2},
{"f":170.0,"a":-55.8},{"f":170.2,"a":-51.8},{"f":170.4,"a":-57.9},{"f":170.6,"a":-54.1},{"f":170.8,"a":-56.4},{"f":171.0,"a":-52.2},{"f":171.2,"a":-60.0},{"f":171.4,"a":-53.9},{"f":171.6,"a":-55.6},{"f":171.8,"a":-51.7},
{"f":172.0,"a":-58.3},{"f":172.2,"a":-54.5},{"f":172.4,"a":-52.5},{"f":172.6,"a":-56.9},{"f":172.8,"a":-62.1},{"f":173.0,"a":-53.5},{"f":173.2,"a":-55.1},{"f":173.4,"a":-51.9},{"f":173.6,"a":-58.8},{"f":173.8,"a":-54.3},
{"f":174.0,"a":-56.7},{"f":174.2,"a":-52.4},{"f":174.4,"a":-59.5},{"f":174.6,"a":-53.8},{"f":174.8,"a":-55.9},{"f":175.0,"a":-52.0},{"f":175.2,"a":-57.2},{"f":175.4,"a":-54.7},{"f":175.6,"a":-52.8},{"f":175.8,"a":-60.6},
{"f":176.0,"a":-53.6},{"f":176.2,"a":-56.1},{"f":176.4,"a":-52.3},{"f":176.6,"a":-58.0},{"f":176.8,"a":-54.8},{"f":177.0,"a":-57.0},{"f":177.2,"a":-52.6},{"f":177.4,"a":-61.4},{"f":177.6,"a":-54.0},{"f":177.8,"a":-56.2},
{"f":178.0,"a":-52.7},{"f":178.2,"a":-58.6},{"f":178.4,"a":-55.0},{"f":178.6,"a":-53.0},{"f":178.8,"a":-57.3},{"f":179.0,"a":-54.6},{"f":179.2,"a":-59.8},{"f":179.4,"a":-53.3},{"f":179.6,"a":-56.5},{"f":179.8,"a":-64.2},
{"f":180.0,"a":-53.9},{"f":180.2,"a":-56.0},{"f":180.4,"a":-52.9},{"f":180.6,"a":-59.1},{"f":180.8,"a":-55.2},{"f":181.0,"a":-57.5},{"f":181.2,"a":-53.1},{"f":181.4,"a":-60.4},{"f":181.6,"a":-54.9},{"f":181.8,"a":-56.8},
{"f":182.0,"a":-52.8},{"f":182.2,"a":-58.9},{"f":182.4,"a":-55.3},{"f":182.6,"a":-53.4},{"f":182.8,"a":-57.8},{"f":183.0,"a":-54.5},{"f":183.2,"a":-61.0},{"f":183.4,"a":-53.7},{"f":183.6,"a":-64.3},{"f":183.8,"a":-54.2},
{"f":184.0,"a":-56.9},{"f":184.2,"a":-53.0},{"f":184.4,"a":-59.3},{"f":184.6,"a":-55.5},{"f":184.8,"a":-57.7},{"f":185.0,"a":-53.5},{"f":185.2,"a":-60.2},{"f":185.4,"a":-55.1},{"f":185.6,"a":-57.1},{"f":185.8,"a":-53.2},
{"f":186.0,"a":-58.7},{"f":186.2,"a":-55.6},{"f":186.4,"a":-53.6},{"f":186.6,"a":-62.6},{"f":186.8,"a":-54.4},{"f":187.0,"a":-57.4},{"f":187.2,"a":-53.3},{"f":187.4,"a":-59.0},{"f":187.6,"a":-55.7},{"f":187.8,"a":-58.0},
{"f":188.0,"a":-53.8},{"f":188.2,"a":-61.3},{"f":188.4,"a":-55.0},{"f":188.6,"a":-57.2},{"f":188.8,"a":-53.4},{"f":189.0,"a":-59.6},{"f":189.2,"a":-55.8},{"f":189.4,"a":-54.0},{"f":189.6,"a":-58.2},{"f":189.8,"a":-64.0},
{"f":190.0,"a":-54.7},{"f":190.2,"a":-57.6},{"f":190.4,"a":-53.9},{"f":190.6,"a":-60.0},{"f":190.8,"a":-56.0},{"f":191.0,"a":-58.4},{"f":191.2,"a":-54.1},{"f":191.4,"a":-61.9},{"f":191.6,"a":-55.4},{"f":191.8,"a":-57.9},
{"f":192.0,"a":-53.7},{"f":192.2,"a":-59.9},{"f":192.4,"a":-56.2},{"f":192.6,"a":-54.3},{"f":192.8,"a":-62.9},{"f":193.0,"a":-55.5},{"f":193.2,"a":-57.3},{"f":193.4,"a":-54.2},{"f":193.6,"a":-60.5},{"f":193.8,"a":-56.4},
{"f":194.0,"a":-65.4},{"f":194.2,"a":-54.8},{"f":194.4,"a":-57.8},{"f":194.6,"a":-54.5},{"f":194.8,"a":-59.4},{"f":195.0,"a":-56.1},{"f":195.2,"a":-58.5},{"f":195.4,"a":-54.4},{"f":195.6,"a":-61.5},{"f":195.8,"a":-55.9},
{"f":196.0,"a":-58.1},{"f":196.2,"a":-54.6},{"f":196.4,"a":-60.3},{"f":196.6,"a":-56.5},{"f":196.8,"a":-54.9},{"f":197.0,"a":-59.2},{"f":197.2,"a":-55.6},{"f":197.4,"a":-62.4},{"f":197.6,"a":-55.1},{"f":197.8,"a":-58.3},
{"f":198.0,"a":-54.0},{"f":198.2,"a":-63.5},{"f":198.4,"a":-55.7},{"f":198.6,"a":-58.6},{"f":198.8,"a":-54.7},{"f":199.0,"a":-60.8},{"f":199.2,"a":-56.3},{"f":199.4,"a":-58.7},{"f":199.6,"a":-51.0},{"f":199.8,"a":-57.0},
{"f":200.0,"a":-58.5}
]},
"layer": [
  {
    "mark": {"type": "line", "color": "#0072BD", "strokeWidth": 4, "clip": true},
    "encoding": {
      "x": {"field": "f", "type": "quantitative", "scale": {"domain": [0, 200], "nice": false, "zero": false},
            "axis": {"orient": "bottom", "title": "Frequency (Hz)", "values": [0,20,40,60,80,100,120,140,160,180,200], "labelFontSize": 46, "titleFontSize": 52, "labelPadding": 21, "titlePadding": 10, "ticks": false, "domain": false, "grid": true, "gridColor": "#e6e6e6", "gridWidth": 3.5, "gridOpacity": 1}},
      "y": {"field": "a", "type": "quantitative", "scale": {"domain": [-70, 70], "nice": false, "zero": false},
            "axis": {"orient": "left", "title": "Amplitude (dBmV)", "values": [-60,-40,-20,0,20,40,60], "labelExpr": "replace(datum.label, '\u2212', '-')", "labelFontSize": 46, "titleFontSize": 52, "labelPadding": 13, "titlePadding": 6, "ticks": false, "domain": false, "grid": true, "gridColor": "#e6e6e6", "gridWidth": 3.5, "gridOpacity": 1}}
    }
  },
  {
    "data": {"values": [{"f": 0, "a": 0}]},
    "mark": {"type": "point", "opacity": 0},
    "encoding": {
      "x": {"field": "f", "type": "quantitative", "axis": {"orient": "bottom", "offset": -27, "tickSize": 27, "tickWidth": 4, "tickColor": "#3a3a3a", "labels": false, "domain": false, "grid": false, "title": null, "values": [0,20,40,60,80,100,120,140,160,180,200]}},
      "y": {"field": "a", "type": "quantitative", "axis": {"orient": "left", "offset": -27, "tickSize": 27, "tickWidth": 4, "tickColor": "#3a3a3a", "labels": false, "domain": false, "grid": false, "title": null, "values": [-60,-40,-20,0,20,40,60]}}
    }
  },
  {
    "data": {"values": [{"f": 0, "a": 0}]},
    "mark": {"type": "point", "opacity": 0},
    "encoding": {
      "x": {"field": "f", "type": "quantitative", "axis": {"orient": "top", "offset": -27, "tickSize": 27, "tickWidth": 4, "tickColor": "#3a3a3a", "labels": false, "domain": false, "grid": false, "title": null, "values": [0,20,40,60,80,100,120,140,160,180,200]}},
      "y": {"field": "a", "type": "quantitative", "axis": {"orient": "right", "offset": -27, "tickSize": 27, "tickWidth": 4, "tickColor": "#3a3a3a", "labels": false, "domain": false, "grid": false, "title": null, "values": [-60,-40,-20,0,20,40,60]}}
    }
  },
  {
    "mark": {"type": "rect", "fill": "#fcfce8", "stroke": "#f0f0dc", "strokeWidth": 1},
    "encoding": {
      "x": {"datum": 54.77, "type": "quantitative", "axis": null},
      "x2": {"datum": 70.09},
      "y": {"datum": 19.0, "type": "quantitative", "axis": null},
      "y2": {"datum": 5.85}
    }
  },
  {
    "mark": {"type": "point", "shape": "square", "filled": true, "color": "#000000", "size": 140, "opacity": 1},
    "encoding": {
      "x": {"datum": 54.4, "type": "quantitative", "axis": null},
      "y": {"datum": 4.838, "type": "quantitative", "axis": null}
    }
  },
  {
    "mark": {"type": "text", "align": "left", "baseline": "alphabetic", "font": "Liberation Sans", "fontSize": 48, "color": "#1a1a1a"},
    "encoding": {
      "x": {"datum": 55.69, "type": "quantitative", "axis": null},
      "y": {"datum": 13.4, "type": "quantitative", "axis": null},
      "text": {"value": "X: 54.4"}
    }
  },
  {
    "mark": {"type": "text", "align": "left", "baseline": "alphabetic", "font": "Liberation Sans", "fontSize": 48, "color": "#1a1a1a"},
    "encoding": {
      "x": {"datum": 55.69, "type": "quantitative", "axis": null},
      "y": {"datum": 7.19, "type": "quantitative", "axis": null},
      "text": {"value": "Y: 4.838"}
    }
  }
],
"resolve": {"axis": {"x": "independent", "y": "independent"}}
}
